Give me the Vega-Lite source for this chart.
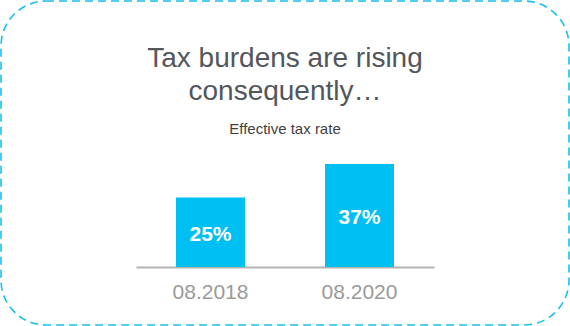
{
  "$schema": "https://vega.github.io/schema/vega-lite/v6.json",
  "width": 568,
  "height": 324,
  "padding": 1,
  "autosize": {"type": "none"},
  "background": "white",
  "config": {
    "font": "Liberation Sans",
    "view": {"stroke": "#19bfee", "strokeWidth": 1.6, "strokeDash": [8, 5], "cornerRadius": 45}
  },
  "title": {
    "text": ["Tax burdens are rising", "consequently…"],
    "subtitle": "Effective tax rate",
    "font": "Liberation Sans",
    "fontSize": 28,
    "fontWeight": "normal",
    "color": "#53565a",
    "lineHeight": 33,
    "subtitleFont": "Liberation Sans",
    "subtitleFontSize": 15,
    "subtitleColor": "#3f3f3f",
    "subtitlePadding": 16,
    "anchor": "middle",
    "frame": "group",
    "offset": -136
  },
  "data": {
    "values": [
      {"period": "08.2018", "rate": 0.25},
      {"period": "08.2020", "rate": 0.37}
    ]
  },
  "encoding": {
    "x": {
      "field": "period",
      "type": "nominal",
      "sort": null,
      "scale": {"range": [135, 433], "paddingInner": 0.537, "paddingOuter": 0.2685},
      "axis": {
        "title": null,
        "orient": "bottom",
        "offset": -58,
        "ticks": false,
        "grid": false,
        "labelAngle": 0,
        "labelFont": "Liberation Sans",
        "labelFontSize": 21,
        "labelColor": "#9a9a9a",
        "labelPadding": 14,
        "domainColor": "#b3b3b3",
        "domainWidth": 2
      }
    },
    "y": {
      "field": "rate",
      "type": "quantitative",
      "scale": {"domain": [0, 0.37], "range": [266, 163], "nice": false, "zero": true},
      "axis": null
    }
  },
  "layer": [
    {
      "mark": {"type": "bar", "color": "#00bff2"}
    },
    {
      "mark": {
        "type": "text",
        "color": "white",
        "fontSize": 21,
        "fontWeight": "bold",
        "baseline": "middle",
        "font": "Liberation Sans",
        "dy": {"expr": "(scale('y', 0) - scale('y', datum.rate)) / 2 + 2.5"}
      },
      "encoding": {
        "text": {"field": "rate", "type": "quantitative", "format": ".0%"}
      }
    }
  ]
}
